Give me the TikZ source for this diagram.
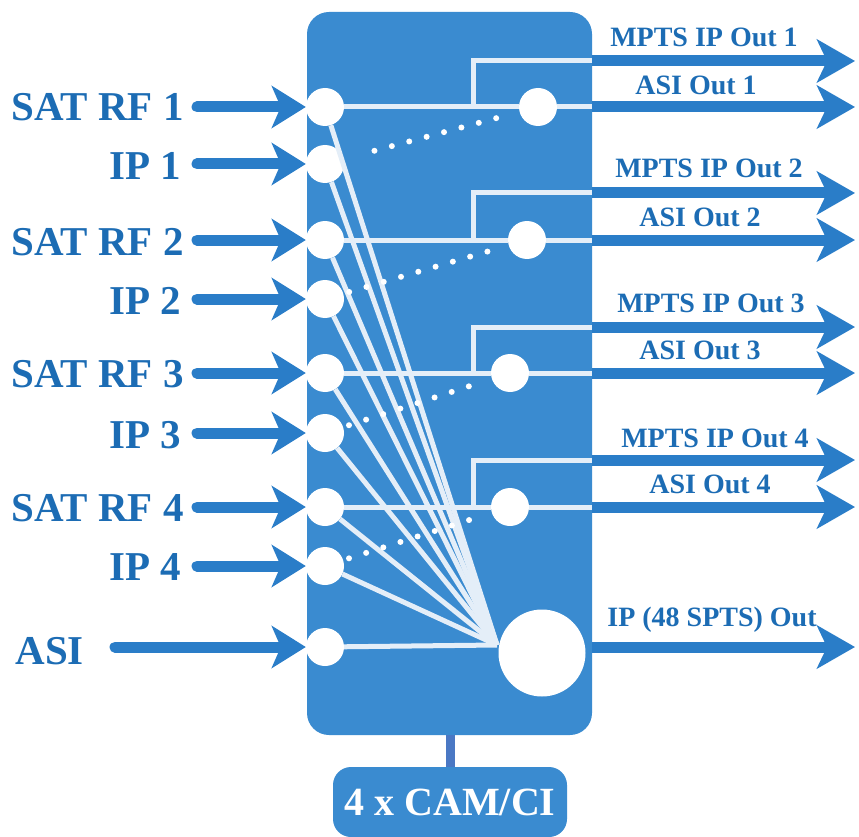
\documentclass[tikz,border=0pt]{standalone}
\usepackage{fontspec}
\setmainfont{Liberation Serif}
\usetikzlibrary{arrows.meta, positioning, calc}
\definecolor{boxblue}{HTML}{3A8BD0}
\definecolor{arrowblue}{HTML}{2A7DC8}
\definecolor{labelblue}{HTML}{1C6CB4}
\definecolor{wireline}{HTML}{E4EEF8}
\definecolor{camline}{HTML}{4A78C4}

\begin{document}
\begin{tikzpicture}[x=1pt, y=-1pt,
  unitbox/.style={rectangle, rounded corners=22pt, fill=boxblue, minimum width=285pt,
    minimum height=723pt, inner sep=0pt},
  cambox/.style={rectangle, rounded corners=18pt, fill=boxblue, minimum width=234pt,
    minimum height=70pt, text=white, font=\fontsize{40}{42}\selectfont\bfseries},
  port/.style={circle, fill=white, minimum size=38pt, inner sep=0pt},
  inlabel/.style={anchor=base east, text=labelblue, font=\fontsize{41}{43}\selectfont\bfseries, inner sep=0pt},
  outlabel/.style={anchor=base, text=labelblue, font=\fontsize{28}{30}\selectfont\bfseries, inner sep=0pt},
  inarr/.style={arrowblue, line width=11pt, line cap=round, -{Stealth[length=34pt, width=42pt, inset=9pt]}},
  outarr/.style={arrowblue, line width=11pt, -{Stealth[length=38pt, width=43pt, inset=10pt]}},
  wire/.style={wireline, line width=5pt},
  dots/.style={white, line width=6pt, line cap=round, dash pattern=on 0pt off 18pt},
  camlink/.style={camline, line width=9pt},
]
  \useasboundingbox (0,0) rectangle (859,837);

  \node[unitbox] (unit) at (449.5,373.5) {};
  \node[cambox] (cam) at (450,802) {4 x CAM/CI};
  \draw[camlink] (unit.south -| cam) -- (cam.north);

  \node[port] (inRF1) at (325,107) {};
  \node[port] (inIP1) at (325,164) {};
  \node[port] (inRF2) at (325,240) {};
  \node[port] (inIP2) at (325,299) {};
  \node[port] (inRF3) at (325,373) {};
  \node[port] (inIP3) at (325,433) {};
  \node[port] (inRF4) at (325,507) {};
  \node[port] (inIP4) at (325,566) {};
  \node[port] (inASI) at (325,647) {};

  \node[port] (mux1) at (538,107) {};
  \node[port] (mux2) at (527,240) {};
  \node[port] (mux3) at (510,373) {};
  \node[port] (mux4) at (510,507) {};
  \node[port, minimum size=87pt] (ipmux) at (542,653) {};

  \coordinate (fan) at (497,645);
  \coordinate (rim) at (855,0);
  \coordinate (split1) at (473,107);
  \coordinate (split2) at (473,240);
  \coordinate (split3) at (473,373);
  \coordinate (split4) at (473,507);
  \coordinate (mpts1) at (592,61);
  \coordinate (mpts2) at (592,193);
  \coordinate (mpts3) at (592,327);
  \coordinate (mpts4) at (592,460);

  \draw[wire] (inRF1) -- (fan);
  \draw[wire] (inIP1) -- (fan);
  \draw[wire] (inRF2) -- (fan);
  \draw[wire] (inIP2) -- (fan);
  \draw[wire] (inRF3) -- (fan);
  \draw[wire] (inIP3) -- (fan);
  \draw[wire] (inRF4) -- (fan);
  \draw[wire] (inIP4) -- (fan);
  \draw[wire] (inASI) -- (fan);

  \draw[wire] (inRF1) -- (mux1) -- (unit.east |- mux1);
  \draw[wire] (inRF2) -- (mux2) -- (unit.east |- mux2);
  \draw[wire] (inRF3) -- (mux3) -- (unit.east |- mux3);
  \draw[wire] (inRF4) -- (mux4) -- (unit.east |- mux4);
  \draw[wire] (split1) |- (mpts1);
  \draw[wire] (split2) |- (mpts2);
  \draw[wire] (split3) |- (mpts3);
  \draw[wire] (split4) |- (mpts4);

  \draw[dots, shorten <=32pt, shorten >=16pt] (inIP1) -- (mux1);
  \draw[dots, shorten <=6pt, shorten >=16pt] (inIP2) -- (mux2);
  \draw[dots, shorten <=6pt, shorten >=15pt] (inIP3) -- (mux3);
  \draw[dots, shorten <=6pt, shorten >=15pt] (inIP4) -- (mux4);

  \node[inlabel] (lblRF1) at (184,121) {SAT RF 1};
  \node[inlabel] (lblIP1) at (181,180) {IP 1};
  \node[inlabel] (lblRF2) at (184,255) {SAT RF 2};
  \node[inlabel] (lblIP2) at (181,314) {IP 2};
  \node[inlabel] (lblRF3) at (184,387) {SAT RF 3};
  \node[inlabel] (lblIP3) at (181,448) {IP 3};
  \node[inlabel] (lblRF4) at (184,521) {SAT RF 4};
  \node[inlabel] (lblIP4) at (181,580) {IP 4};
  \node[inlabel] (lblASI) at (84,664) {ASI};

  \draw[inarr] ([xshift=13pt]lblRF1.east |- inRF1) -- (inRF1);
  \draw[inarr] ([xshift=16pt]lblIP1.east |- inIP1) -- (inIP1);
  \draw[inarr] ([xshift=13pt]lblRF2.east |- inRF2) -- (inRF2);
  \draw[inarr] ([xshift=16pt]lblIP2.east |- inIP2) -- (inIP2);
  \draw[inarr] ([xshift=13pt]lblRF3.east |- inRF3) -- (inRF3);
  \draw[inarr] ([xshift=16pt]lblIP3.east |- inIP3) -- (inIP3);
  \draw[inarr] ([xshift=13pt]lblRF4.east |- inRF4) -- (inRF4);
  \draw[inarr] ([xshift=16pt]lblIP4.east |- inIP4) -- (inIP4);
  \draw[inarr] ([xshift=31pt]lblASI.east |- inASI) -- (inASI);

  \draw[outarr] (mpts1) -- (rim |- mpts1);
  \draw[outarr] (unit.east |- mux1) -- (rim |- mux1);
  \draw[outarr] (mpts2) -- (rim |- mpts2);
  \draw[outarr] (unit.east |- mux2) -- (rim |- mux2);
  \draw[outarr] (mpts3) -- (rim |- mpts3);
  \draw[outarr] (unit.east |- mux3) -- (rim |- mux3);
  \draw[outarr] (mpts4) -- (rim |- mpts4);
  \draw[outarr] (unit.east |- mux4) -- (rim |- mux4);
  \draw[outarr] (unit.east |- 0,647) -- (rim |- 0,647);

  \node[outlabel] (lblM1) at (704,47) {MPTS IP Out 1};
  \node[outlabel] (lblA1) at (696,95) {ASI Out 1};
  \node[outlabel] (lblM2) at (709,178) {MPTS IP Out 2};
  \node[outlabel] (lblA2) at (700,226) {ASI Out 2};
  \node[outlabel] (lblM3) at (711,312) {MPTS IP Out 3};
  \node[outlabel] (lblA3) at (700,359) {ASI Out 3};
  \node[outlabel] (lblM4) at (715,447) {MPTS IP Out 4};
  \node[outlabel] (lblA4) at (710,493) {ASI Out 4};
  \node[outlabel] (lblIPO) at (712,626) {IP (48 SPTS) Out};
\end{tikzpicture}
\end{document}
